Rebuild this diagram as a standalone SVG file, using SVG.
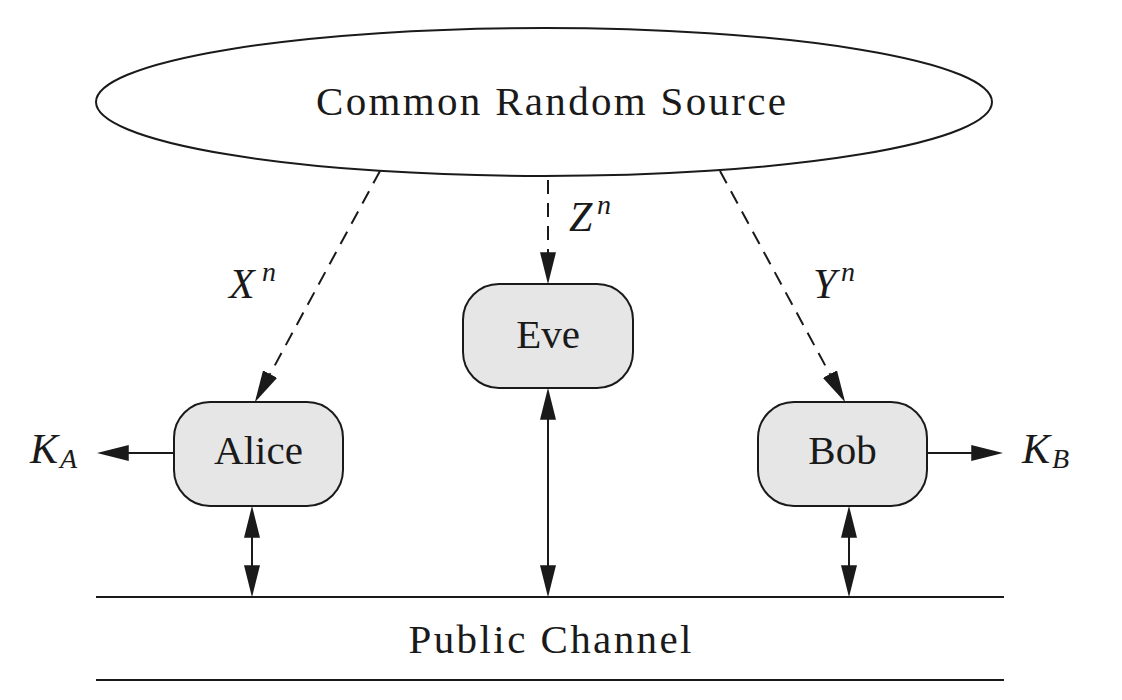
<svg xmlns="http://www.w3.org/2000/svg" width="1122" height="700" viewBox="0 0 1122 700">
<style>
.ln{stroke:#1a1a1a;stroke-width:2;fill:none}
.dash{stroke-dasharray:14 9}
.box{fill:#e6e6e6;stroke:#1a1a1a;stroke-width:2}
text{fill:#1a1a1a}
.t{font-size:41px}
.m{font-style:italic;font-size:42px}
.s{font-style:italic;font-size:28px}
</style>
<defs>
<marker id="ah" markerUnits="userSpaceOnUse" markerWidth="32" markerHeight="16" viewBox="0 0 30 15" refX="26" refY="7.5" orient="auto-start-reverse">
<path d="M0,0 L30,7.5 L0,15 z" fill="#1a1a1a"/>
</marker>
</defs>
<rect width="1122" height="700" fill="#ffffff"/>
<g font-family="Liberation Serif, Tinos, Times New Roman, Noto Serif, DejaVu Serif, FreeSerif, serif">
<g id="source">
<ellipse cx="544" cy="102" rx="448" ry="74" fill="#ffffff" stroke="#1a1a1a" stroke-width="2"/>
<text class="t" x="551" y="115" text-anchor="middle" textLength="470" lengthAdjust="spacing">Common Random Source</text>
</g>
<g id="alice">
<rect class="box" x="174" y="402" width="169" height="104" rx="36" ry="36"/>
<text class="t" x="258.5" y="464" text-anchor="middle">Alice</text>
</g>
<g id="eve">
<rect class="box" x="463" y="284" width="170" height="104" rx="36" ry="36"/>
<text class="t" x="548" y="348" text-anchor="middle">Eve</text>
</g>
<g id="bob">
<rect class="box" x="758" y="402" width="169" height="104" rx="36" ry="36"/>
<text class="t" x="842.5" y="464" text-anchor="middle">Bob</text>
</g>
<g id="channel">
<line class="ln" x1="96" y1="597" x2="1004" y2="597"/>
<line class="ln" x1="96" y1="680" x2="1004" y2="680"/>
<text class="t" x="550" y="653" text-anchor="middle" textLength="283" lengthAdjust="spacing">Public Channel</text>
</g>
<g id="connectors">
<line class="ln dash" x1="380" y1="171" x2="256.9" y2="398.5" marker-end="url(#ah)"/>
<line class="ln dash" x1="548" y1="180" x2="548" y2="280" marker-end="url(#ah)"/>
<line class="ln dash" x1="720" y1="171" x2="843.1" y2="398.5" marker-end="url(#ah)"/>
<line class="ln" x1="174" y1="453" x2="101" y2="453" marker-end="url(#ah)"/>
<line class="ln" x1="927" y1="453" x2="999" y2="453" marker-end="url(#ah)"/>
<line class="ln" x1="252" y1="510" x2="252" y2="593" marker-start="url(#ah)" marker-end="url(#ah)"/>
<line class="ln" x1="548" y1="392" x2="548" y2="593" marker-start="url(#ah)" marker-end="url(#ah)"/>
<line class="ln" x1="849" y1="510" x2="849" y2="593" marker-start="url(#ah)" marker-end="url(#ah)"/>
</g>
<g id="labels">
<text class="m" x="229" y="298">X</text><text class="s" x="262" y="281">n</text>
<text class="m" x="569" y="231">Z</text><text class="s" x="597" y="214">n</text>
<text class="m" x="813" y="298">Y</text><text class="s" x="841" y="281">n</text>
<text class="m" x="30" y="463">K</text><text class="s" x="60" y="468">A</text>
<text class="m" x="1022" y="463">K</text><text class="s" x="1052" y="468">B</text>
</g>
</g>
</svg>
